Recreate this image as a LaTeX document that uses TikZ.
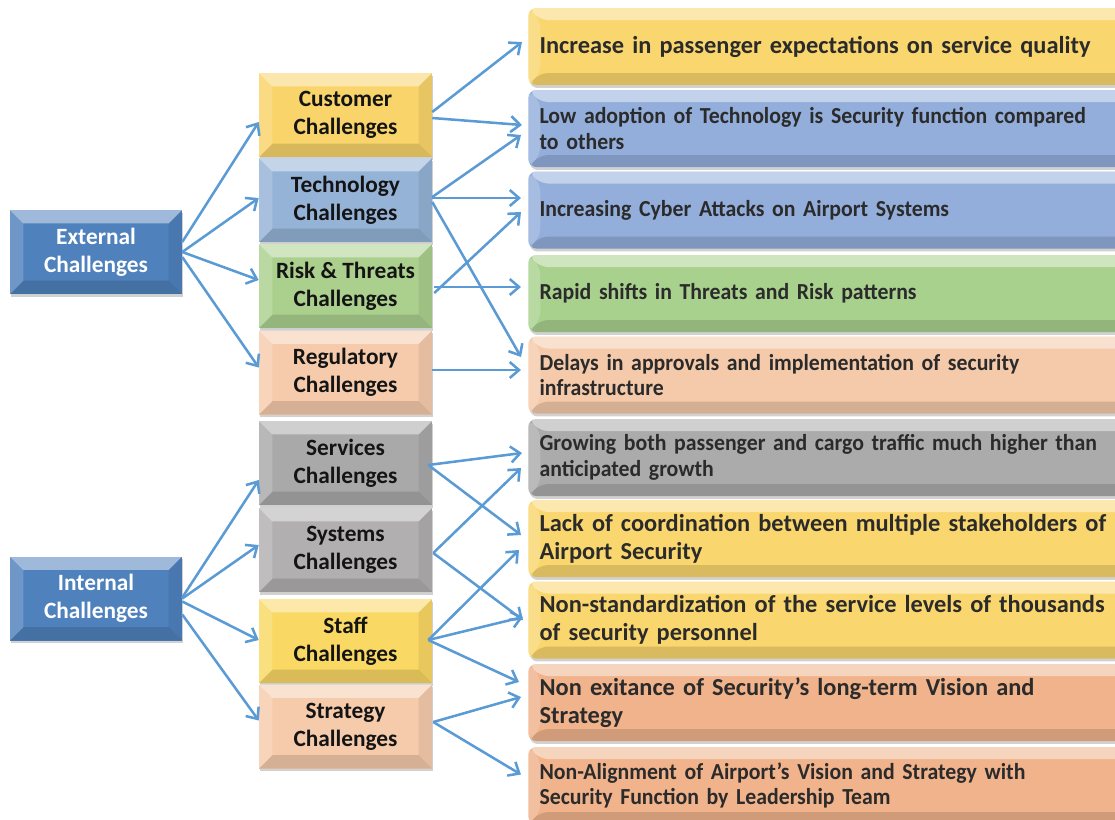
\documentclass[tikz,border=0pt]{standalone}
\usepackage{fontspec}
\setmainfont{Carlito}
\newfontfamily\cond{Carlito}[FakeStretch=0.95]
\usetikzlibrary{arrows.meta,calc}
\definecolor{lbox}{HTML}{4F81BD}
\definecolor{custc}{HTML}{F9D46A}
\definecolor{techc}{HTML}{95B3D7}
\definecolor{riskc}{HTML}{ABD08E}
\definecolor{regc}{HTML}{F6CBAC}
\definecolor{servc}{HTML}{A9A9A9}
\definecolor{sysc}{HTML}{B1AFAF}
\definecolor{staffc}{HTML}{FAD864}
\definecolor{stratc}{HTML}{F6CBAC}
\definecolor{ryel}{HTML}{FAD66E}
\definecolor{rblue}{HTML}{93AEDB}
\definecolor{rgreen}{HTML}{A9D18E}
\definecolor{rpeach}{HTML}{F5CAAA}
\definecolor{rgray}{HTML}{ABABAB}
\definecolor{rorange}{HTML}{F0B38C}
\definecolor{arrc}{HTML}{5B9BD5}
\definecolor{rtext}{HTML}{2B2B2B}
\tikzset{
  bevel/.style={path picture={
    \path (path picture bounding box.north west) coordinate (bnw)
          (path picture bounding box.north east) coordinate (bne)
          (path picture bounding box.south west) coordinate (bsw)
          (path picture bounding box.south east) coordinate (bse);
    \fill[white,opacity=0.45] (bnw) -- (bne) -- ([xshift=-#1,yshift=-#1]bne) -- ([xshift=#1,yshift=-#1]bnw) -- cycle;
    \fill[black,opacity=0.13] (bsw) -- (bse) -- ([xshift=-#1,yshift=#1]bse) -- ([xshift=#1,yshift=#1]bsw) -- cycle;
    \fill[white,opacity=0.18] (bnw) -- ([xshift=#1,yshift=-#1]bnw) -- ([xshift=#1,yshift=#1]bsw) -- (bsw) -- cycle;
    \fill[black,opacity=0.07] (bne) -- ([xshift=-#1,yshift=-#1]bne) -- ([xshift=-#1,yshift=#1]bse) -- (bse) -- cycle;
  }},
  shadowed/.style={preaction={fill=black,opacity=0.18,transform canvas={xshift=1pt,yshift=-2.2pt}}},
  lft/.style={fill=lbox, minimum width=129pt, minimum height=63pt, inner sep=0pt, align=center,
    text=white, font=\bfseries\fontsize{17.5}{21}\selectfont, bevel=10pt, shadowed},
  mid/.style={fill=#1, minimum width=129.75pt, minimum height=63pt, inner sep=0pt, align=center,
    text=black!92, font=\bfseries\fontsize{17.5}{21}\selectfont, bevel=10pt, shadowed},
  rbox/.style={fill=#1, anchor=west, minimum height=57.75pt, text width=450pt, inner xsep=8.5pt,
    inner ysep=0pt, align=left, rounded corners=6pt, text=rtext, bevel=9pt, shadowed},
  rbold/.style={rbox=#1, font=\bfseries\fontsize{18.3}{21}\selectfont},
  rcond/.style={rbox=#1, font=\cond\bfseries\fontsize{17.2}{19}\selectfont},
  conn/.style={draw=arrc, line width=1.9pt, -{Straight Barb[length=7pt,width=12pt,line width=1.9pt]}}
}
\begin{document}
\begin{tikzpicture}[x=0.75pt,y=-0.75pt]
\useasboundingbox (0,0) rectangle (1115,819);
\clip (0,0) rectangle (1115,819);

% left
\node[lft] (ext) at (96,252) {External\\Challenges};
\node[lft] (int) at (96,598.5) {Internal\\Challenges};

% middle
\node[mid=custc] (cust) at (345.5,115) {Customer\\Challenges};
\node[mid=techc] (tech) at (345.5,200) {Technology\\Challenges};
\node[mid=riskc] (risk) at (345.5,286) {Risk \& Threats\\Challenges};
\node[mid=regc] (reg) at (345.5,372.5) {Regulatory\\Challenges};
\node[mid=servc] (serv) at (345.5,463) {Services\\Challenges};
\node[mid=sysc] (sys) at (345.5,550) {Systems\\Challenges};
\node[mid=staffc] (staff) at (345.5,641) {Staff\\Challenges};
\node[mid=stratc] (strat) at (345.5,726.5) {Strategy\\Challenges};

% right
\node[rbold=ryel] (r1) at (528,46.5) {Increase in passenger expectations on service quality};
\node[rcond=rblue] (r2) at (528,128.5) {Low adoption of Technology is Security function compared\\to others};
\node[rcond=rblue] (r3) at (528,210) {Increasing Cyber Attacks on Airport Systems};
\node[rcond=rgreen] (r4) at (528,293.5) {Rapid shifts in Threats and Risk patterns};
\node[rcond=rpeach] (r5) at (528,375) {Delays in approvals and implementation of security\\infrastructure};
\node[rcond=rgray] (r6) at (528,457.5) {Growing both passenger and cargo traffic much higher than\\anticipated growth};
\node[rbold=ryel] (r7) at (528,538.5) {Lack of coordination between multiple stakeholders of\\Airport Security};
\node[rbold=ryel] (r8) at (528,620) {Non-standardization of the service levels of thousands\\of security personnel};
\node[rbold=rorange] (r9) at (528,702.5) {Non exitance of Security’s long-term Vision and\\Strategy};
\node[rcond=rorange] (r10) at (528,785.5) {Non-Alignment of Airport’s Vision and Strategy with\\Security Function by Leadership Team};

% left -> middle
\draw[conn] ($(ext.east)+(0,-10)$) -- ($(cust.west)+(0,7)$);
\draw[conn] (ext.east) -- ($(tech.west)+(0,-2)$);
\draw[conn] (ext.east) -- ($(risk.west)+(0,-6)$);
\draw[conn] ($(ext.east)+(0,5)$) -- ($(reg.west)+(0,-5)$);
\draw[conn] ($(int.east)+(0,-1)$) -- ($(serv.west)+(0,17)$);
\draw[conn] (int.east) -- ($(sys.west)+(0,-5)$);
\draw[conn] ($(int.east)+(0,3)$) -- ($(staff.west)+(0,-1)$);
\draw[conn] ($(int.east)+(0,16)$) -- ($(strat.west)+(0,-6)$);

% middle -> right
\draw[conn] ($(cust.east)+(0,-3)$) -- ($(r1.west)+(-6,-4.5)$);
\draw[conn] ($(cust.east)+(0,3)$) -- ($(r2.west)+(-6,-3.5)$);
\draw[conn] ($(tech.east)+(0,-3)$) -- ($(r2.west)+(-7,6.5)$);
\draw[conn] ($(tech.east)+(0,-2)$) -- ($(r3.west)+(-7,-12)$);
\draw[conn] ($(tech.east)+(0,2)$) -- ($(r5.west)+(-7,-18)$);
\draw[conn] ($(risk.east)+(2,7)$) -- ($(r3.west)+(-7,2)$);
\draw[conn] ($(risk.east)+(2,1)$) -- ($(r4.west)+(-7,-6.5)$);
\draw[conn] ($(reg.east)+(0,-2.5)$) -- ($(r5.west)+(-7,-5)$);
\draw[conn] ($(serv.east)+(-4,2)$) -- ($(r6.west)+(-6,-4.5)$);
\draw[conn] ($(serv.east)+(-4,2)$) -- ($(r7.west)+(-7,-3.5)$);
\draw[conn] ($(sys.east)+(1,3)$) -- ($(r6.west)+(-7,10.5)$);
\draw[conn] ($(sys.east)+(1,3)$) -- ($(r8.west)+(-5,0)$);
\draw[conn] ($(staff.east)+(-4,-1)$) -- ($(r7.west)+(-9,11.5)$);
\draw[conn] ($(staff.east)+(-4,-1)$) -- ($(r8.west)+(-5,-3)$);
\draw[conn] ($(staff.east)+(-4,-1)$) -- ($(r9.west)+(-9,-20.5)$);
\draw[conn] ($(strat.east)+(1,-4.5)$) -- ($(r9.west)+(-7,-5.5)$);
\draw[conn] ($(strat.east)+(1,-4.5)$) -- ($(r10.west)+(-7,-11)$);
\end{tikzpicture}
\end{document}
